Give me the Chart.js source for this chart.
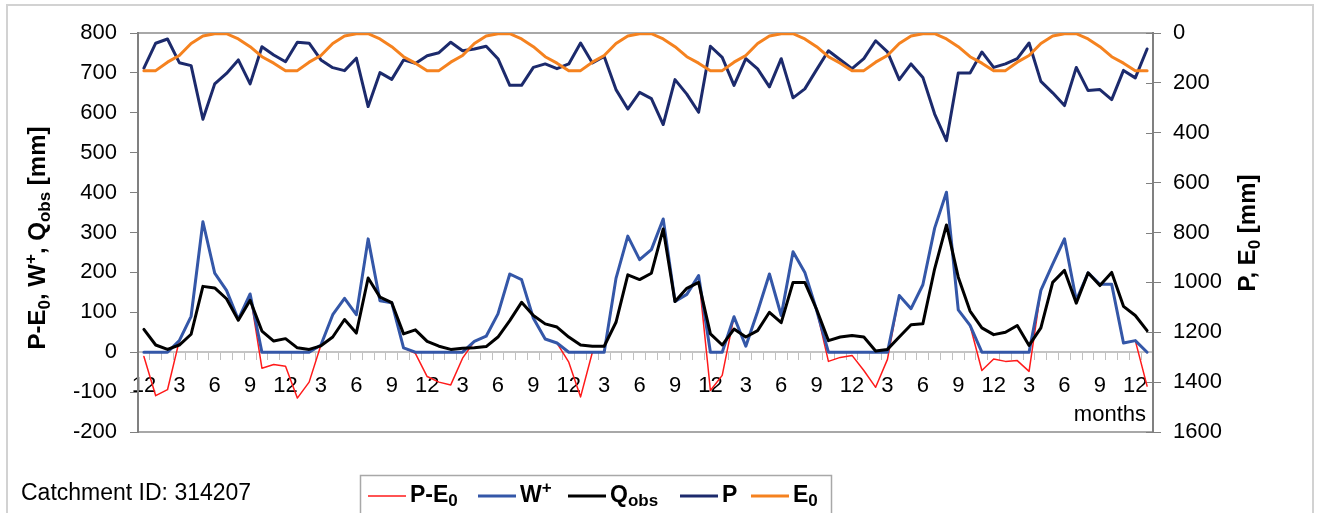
<!DOCTYPE html>
<html><head><meta charset="utf-8">
<script src="https://cdn.jsdelivr.net/npm/chart.js@4"></script>
<style>html,body{margin:0;padding:0;background:#fff;overflow:hidden}</style>
</head><body>
<canvas id="c" width="1319" height="513"></canvas>
<script>
// ---- data ----
const months = ["12",
 "1","2","3","4","5","6","7","8","9","10","11","12",
 "1","2","3","4","5","6","7","8","9","10","11","12",
 "1","2","3","4","5","6","7","8","9","10","11","12",
 "1","2","3","4","5","6","7","8","9","10","11","12",
 "1","2","3","4","5","6","7","8","9","10","11","12",
 "1","2","3","4","5","6","7","8","9","10","11","12",
 "1","2","3","4","5","6","7","8","9","10","11","12",
 "1"];

const pMinusE0 = [-11,
 -109,-94,29,90,327,198,155,82,146,-40,-31,-35,
 -115,-75,18,94,135,94,284,129,124,11,-3,-61,
 -75,-82,-15,27,40,96,196,182,85,33,23,-25,
 -112,0,0,185,291,232,257,334,127,145,192,-96,
 -58,89,15,102,196,92,252,200,105,-23,-13,-8,
 -46,-88,-18,142,109,169,311,401,106,67,-46,-17,
 -23,-21,-48,155,221,284,130,199,170,170,23,29,
 -85];

const wPlus = [0,
 0,0,29,90,327,198,155,82,146,0,0,0,
 0,0,18,94,135,94,284,129,124,11,0,0,
 0,0,0,27,40,96,196,182,85,33,23,0,
 0,0,0,185,291,232,257,334,127,145,192,0,
 0,89,15,102,196,92,252,200,105,0,0,0,
 0,0,0,142,109,169,311,401,106,67,0,0,
 0,0,0,155,221,284,130,199,170,170,23,29,
 0];

const qObs = [57,
 18,7,18,45,165,161,134,80,130,53,28,34,
 11,7,16,38,82,48,186,138,124,46,56,27,
 15,7,10,11,14,38,79,125,92,71,63,38,
 18,15,15,75,194,182,198,309,127,160,175,46,
 18,58,38,54,100,74,175,175,107,29,38,42,
 38,3,7,38,69,71,209,319,188,103,61,44,
 50,67,17,61,175,205,123,199,167,200,115,92,
 54];

const precip = [141,
 41,24,119,131,346,204,162,108,204,55,88,115,
 37,41,108,139,151,101,295,159,186,108,122,91,
 79,37,71,64,53,103,210,210,138,124,143,124,
 40,120,94,227,305,238,263,367,187,245,318,53,
 98,210,103,144,216,103,260,224,147,71,107,143,
 103,31,76,187,124,178,325,432,160,160,76,138,
 124,103,40,194,240,291,138,231,227,267,150,180,
 64];

const e0 = [151,
 151,117,90,42,12,3,3,24,55,95,121,151,
 151,117,90,42,12,3,3,24,55,95,121,151,
 151,117,90,42,12,3,3,24,55,95,121,151,
 151,117,90,42,12,3,3,24,55,95,121,151,
 151,117,90,42,12,3,3,24,55,95,121,151,
 151,117,90,42,12,3,3,24,55,95,121,151,
 151,117,90,42,12,3,3,24,55,95,121,151,
 151];

const seriesNames = ["P-E0","W+","Qobs","P","E0"];
const leftTicks = {min:-200, max:800, step:100};
const rightTicks = {min:0, max:1600, step:200};

// ---- drawing ----
const FF = "'Liberation Sans', Arial, Helvetica, sans-serif";
Chart.defaults.font.family = FF;

function rich(ctx, segs, x, y, center, bold) {
  let total = 0;
  const w = [];
  for (const s of segs) {
    ctx.font = (bold ? 'bold ' : '') + s[1] + 'px ' + FF;
    const m = ctx.measureText(s[0]).width; w.push(m); total += m;
  }
  let cx = center ? x - total / 2 : x;
  segs.forEach((s, i) => {
    ctx.font = (bold ? 'bold ' : '') + s[1] + 'px ' + FF;
    ctx.fillText(s[0], cx, y + s[2]);
    cx += w[i];
  });
}

const legendSegs = [
  [['P-E',23,0],['0',17,4]],
  [['W',23,0],['+',17,-9]],
  [['Q',23,0],['obs',17,4]],
  [['P',23,0]],
  [['E',23,0],['0',17,4]]
];
const legendX = [368, 478, 568, 680, 751];

const deco = {
  id: 'deco',
  beforeDraw(chart) {
    const ctx = chart.ctx, a = chart.chartArea;
    ctx.save();
    ctx.fillStyle = '#fff';
    ctx.fillRect(0, 0, chart.width, chart.height);
    ctx.strokeStyle = '#d2d2d2'; ctx.lineWidth = 2;
    ctx.strokeRect(7, 5, 1306, 600);
    ctx.strokeStyle = '#a8a8a8'; ctx.lineWidth = 2;
    ctx.strokeRect(a.left, a.top, a.right - a.left, a.bottom - a.top);
    // inner half of the cross ticks on the right axis
    const y2 = chart.scales.y2;
    ctx.strokeStyle = '#808080'; ctx.lineWidth = 1;
    y2.ticks.forEach(t => {
      const py = Math.round(y2.getPixelForValue(t.value)) + 0.5;
      ctx.beginPath(); ctx.moveTo(a.right - 7, py); ctx.lineTo(a.right, py); ctx.stroke();
    });
    ctx.restore();
  },
  afterDraw(chart) {
    const ctx = chart.ctx;
    ctx.save();
    ctx.fillStyle = '#000';
    ctx.textAlign = 'left'; ctx.textBaseline = 'alphabetic';
    // left axis title
    ctx.save();
    ctx.translate(45, 238); ctx.rotate(-Math.PI / 2);
    rich(ctx, [['P-E',24,0],['0',17,5],[', W',24,0],['+',17,-9],[', Q',24,0],['obs',17,5],[' [mm]',24,0]], 0, 0, true, true);
    ctx.restore();
    // right axis title
    ctx.save();
    ctx.translate(1255, 233); ctx.rotate(-Math.PI / 2);
    rich(ctx, [['P, E',24,0],['0',17,5],[' [mm]',24,0]], 0, 0, true, true);
    ctx.restore();
    // x axis title
    ctx.font = '22px ' + FF; ctx.textAlign = 'right';
    ctx.fillText('months', 1146, 421);
    // catchment note
    ctx.textAlign = 'left';
    ctx.font = '23px ' + FF;
    ctx.fillText('Catchment ID: 314207', 21, 500);
    // legend
    ctx.strokeStyle = '#a8a8a8'; ctx.lineWidth = 1.5;
    ctx.strokeRect(360.5, 475.5, 471, 80);
    chart.data.datasets.forEach((ds, i) => {
      const x0 = legendX[i];
      ctx.strokeStyle = ds.borderColor; ctx.lineWidth = ds.borderWidth;
      ctx.beginPath(); ctx.moveTo(x0, 496); ctx.lineTo(x0 + 38, 496); ctx.stroke();
      ctx.fillStyle = '#000';
      rich(ctx, legendSegs[i], x0 + 42, 502, false, true);
    });
    ctx.restore();
  }
};

const lineOpts = {pointRadius: 0, tension: 0, fill: false, borderJoinStyle: 'round', borderCapStyle: 'round'};

new Chart(document.getElementById('c'), {
  type: 'line',
  data: {
    labels: months,
    datasets: [
      Object.assign({label: seriesNames[0], data: pMinusE0, yAxisID: 'y', borderColor: '#ff1a1a', borderWidth: 1.5, order: 5}, lineOpts),
      Object.assign({label: seriesNames[1], data: wPlus, yAxisID: 'y', borderColor: '#3457a8', borderWidth: 3, order: 4}, lineOpts),
      Object.assign({label: seriesNames[2], data: qObs, yAxisID: 'y', borderColor: '#000000', borderWidth: 3, order: 3}, lineOpts),
      Object.assign({label: seriesNames[3], data: precip, yAxisID: 'y2', borderColor: '#1c2a6c', borderWidth: 3, order: 2}, lineOpts),
      Object.assign({label: seriesNames[4], data: e0, yAxisID: 'y2', borderColor: '#f5821f', borderWidth: 3, order: 1}, lineOpts)
    ]
  },
  options: {
    responsive: false, animation: false, devicePixelRatio: 1,
    layout: {padding: {top: 33, bottom: 81, left: 0, right: 0}},
    plugins: {legend: {display: false}, tooltip: {enabled: false}},
    scales: {
      x: {
        type: 'category', offset: true, position: {y: 0},
        grid: {offset: true, drawOnChartArea: false, drawTicks: true, tickLength: 7, color: '#c0c0c0', lineWidth: 1},
        border: {color: '#c4c4c4', width: 2},
        ticks: {autoSkip: false, maxRotation: 0, minRotation: 0, color: '#000', font: {size: 22}, padding: 14,
          callback: (v, i) => (i % 3 === 0 ? months[i] : '')}
      },
      y: {
        position: 'left', min: leftTicks.min, max: leftTicks.max,
        ticks: {stepSize: leftTicks.step, color: '#000', font: {size: 22}, padding: 13, callback: v => String(v)},
        grid: {drawOnChartArea: false, tickLength: 8, color: '#808080'},
        border: {color: '#808080', width: 2},
        afterFit: s => { s.width = 138; }
      },
      y2: {
        position: 'right', reverse: true, min: rightTicks.min, max: rightTicks.max,
        ticks: {stepSize: rightTicks.step, color: '#000', font: {size: 22}, padding: 12, callback: v => String(v)},
        grid: {drawOnChartArea: false, tickLength: 8, color: '#808080'},
        border: {color: '#808080', width: 2},
        afterFit: s => { s.width = 166; }
      }
    }
  },
  plugins: [deco]
});
</script>
</body></html>
